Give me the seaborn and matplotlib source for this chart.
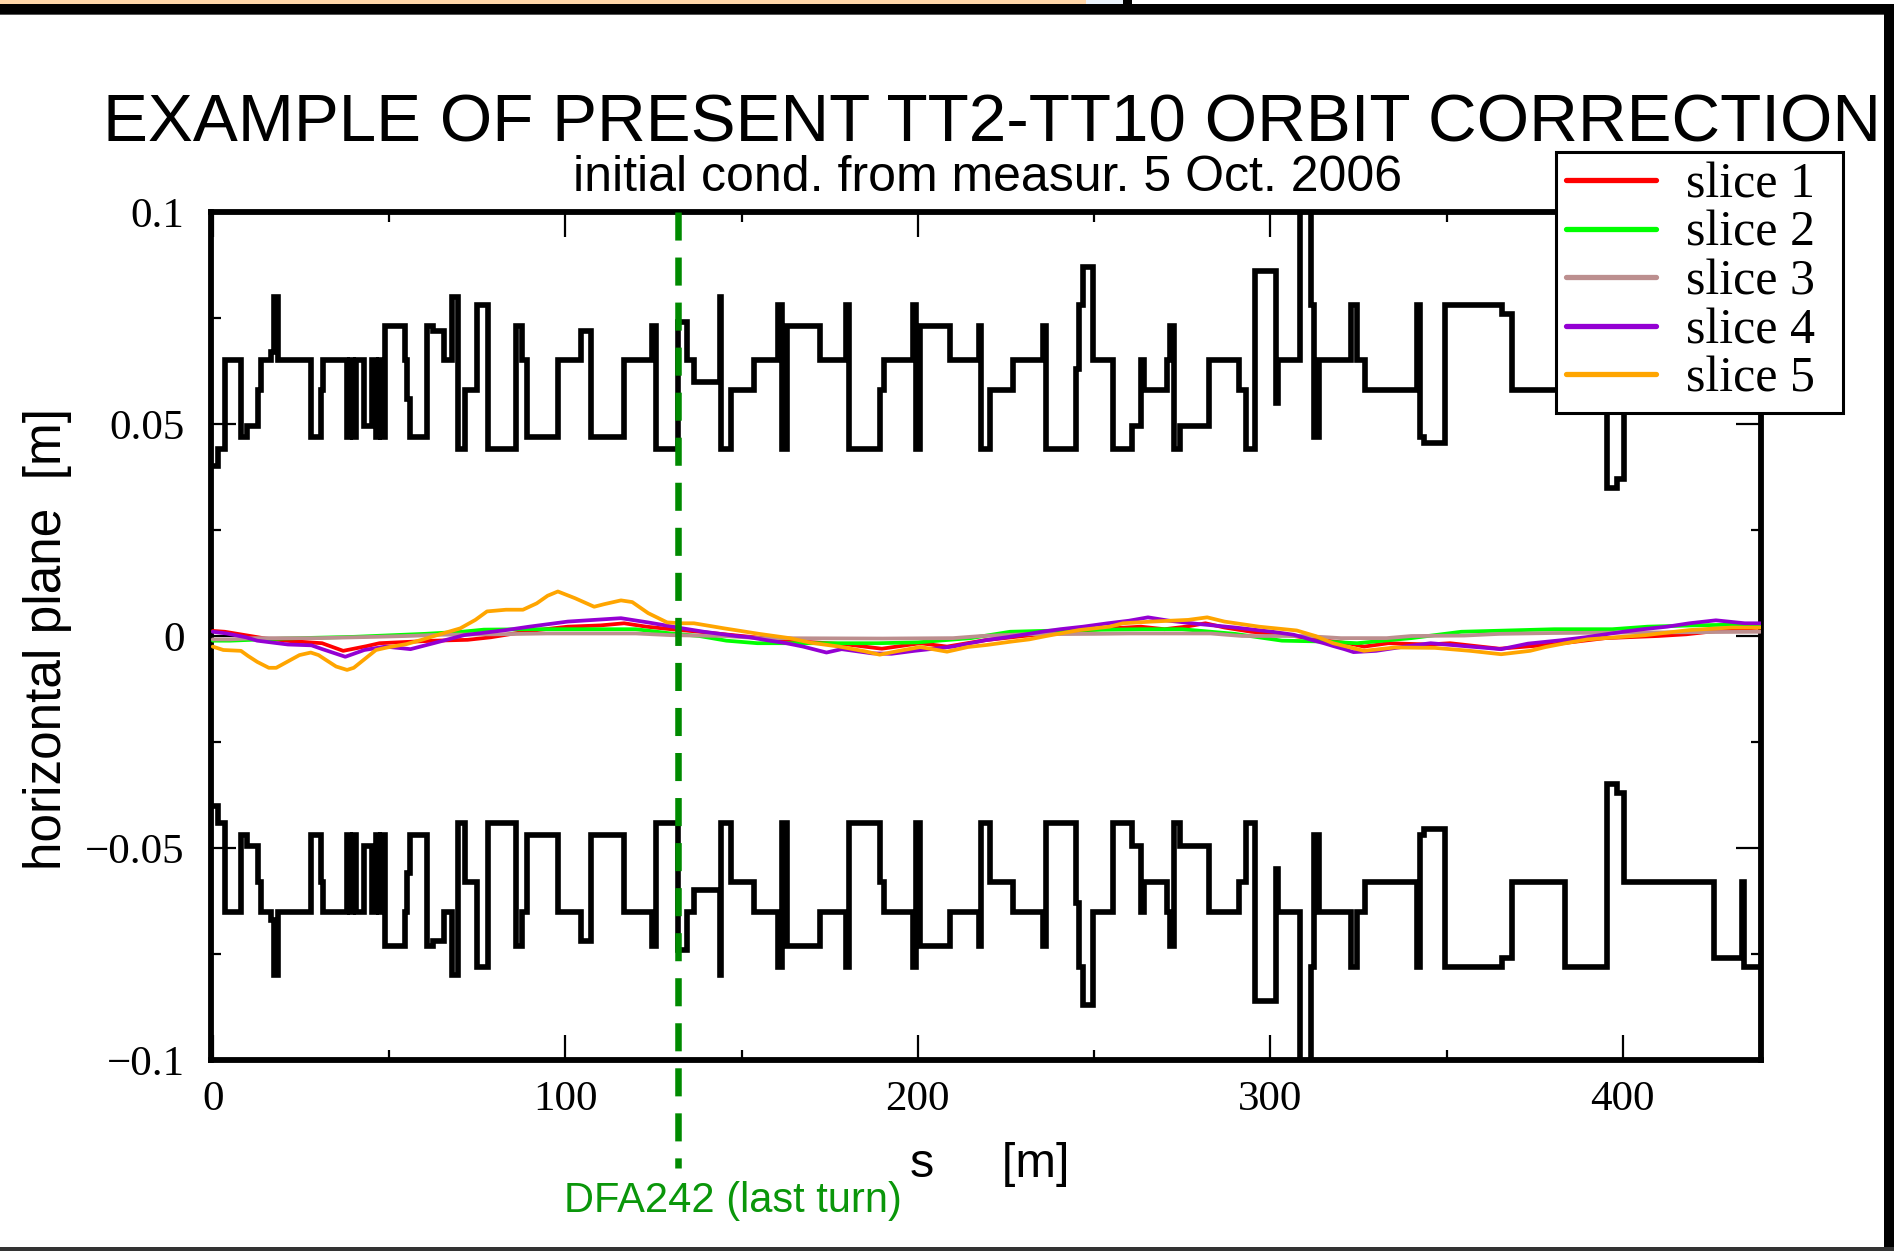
import numpy as np
import pandas as pd
import matplotlib
matplotlib.use("Agg")
import matplotlib.pyplot as plt
import seaborn as sns
from matplotlib.patches import Rectangle
from matplotlib.ticker import FixedLocator
from matplotlib.font_manager import FontProperties

# ---------------- data ----------------
# half aperture (step function, steps-post), upper = +, lower = -
ap_s = [0.0, 1.5, 3.4, 7.9, 9.6, 12.7, 13.6, 16.6, 17.4, 18.6,
        28.0, 30.6, 31.3, 38.2, 39.0, 39.8, 40.6, 42.9, 45.2, 46.2,
        47.2, 47.8, 48.8, 54.4, 55.0, 55.9, 60.9, 62.5, 65.6, 67.9,
        69.6, 71.6, 75.1, 78.0, 86.0, 87.7, 89.2, 97.9, 104.4, 107.2,
        116.6, 124.6, 125.6, 131.9, 134.4, 136.6, 143.9, 144.2, 146.9, 153.4,
        160.3, 161.5, 162.8, 172.4, 179.5, 180.6, 189.3, 190.3, 198.5, 199.5,
        200.6, 209.0, 217.5, 217.8, 220.4, 227.0, 235.4, 236.4, 244.9, 245.8,
        246.9, 249.6, 255.3, 260.8, 263.3, 264.2, 270.6, 271.6, 272.8, 274.3,
        282.7, 291.1, 293.1, 295.8, 301.5, 302.3, 308.3, 311.6, 312.3, 313.7,
        322.9, 324.6, 327.0, 341.5, 342.6, 343.6, 349.6, 365.8, 368.6, 383.7,
        395.5, 398.3, 400.3, 426.0, 433.8, 434.4, 440.0]
ap_half = [0.040, 0.044, 0.065, 0.047, 0.0495, 0.058, 0.065, 0.067, 0.080, 0.065,
           0.047, 0.058, 0.065, 0.047, 0.065, 0.047, 0.065, 0.0495, 0.065, 0.047,
           0.065, 0.047, 0.073, 0.065, 0.056, 0.047, 0.073, 0.072, 0.065, 0.080,
           0.044, 0.058, 0.078, 0.044, 0.073, 0.065, 0.047, 0.065, 0.072, 0.047,
           0.065, 0.073, 0.044, 0.074, 0.065, 0.060, 0.080, 0.044, 0.058, 0.065,
           0.078, 0.044, 0.073, 0.065, 0.078, 0.044, 0.058, 0.065, 0.078, 0.044,
           0.073, 0.065, 0.073, 0.044, 0.058, 0.065, 0.073, 0.044, 0.063, 0.078,
           0.087, 0.065, 0.044, 0.0495, 0.065, 0.058, 0.065, 0.073, 0.044, 0.0495,
           0.065, 0.058, 0.044, 0.086, 0.055, 0.065, 0.120, 0.078, 0.047, 0.065,
           0.078, 0.065, 0.058, 0.078, 0.047, 0.0455, 0.078, 0.076, 0.058, 0.078,
           0.035, 0.037, 0.058, 0.076, 0.058, 0.078, 0.078]

slice1_s = [0, 3.4, 8.5, 15, 22, 31, 37, 43.6, 47.3, 55, 63, 72.3, 78.9, 90, 100.7,
            110, 116.7, 123, 130, 138, 150, 165, 180, 189.8, 200.7, 208.3, 214, 219,
            230, 245, 255, 263.3, 270, 276, 281.6, 287, 294.6, 305, 315, 322, 326.6,
            333.5, 345, 351, 365, 380, 395, 410, 418, 430, 439]
slice1_x = [0.0012, 0.0010, 0.0003, -0.0006, -0.0012, -0.0017, -0.0035, -0.0024, -0.0017,
            -0.0014, -0.0011, -0.0009, -0.0003, 0.0012, 0.0022, 0.0025, 0.0030, 0.0022,
            0.0016, 0.0010, 0.0000, -0.0012, -0.0020, -0.0030, -0.0017, -0.0025, -0.0017,
            -0.0010, 0.0000, 0.0012, 0.0018, 0.0022, 0.0016, 0.0022, 0.0030, 0.0020,
            0.0010, 0.0002, -0.0010, -0.0017, -0.0025, -0.0017, -0.0020, -0.0017,
            -0.0030, -0.0020, -0.0005, 0.0000, 0.0004, 0.0015, 0.0020]

slice2_s = [0, 5, 20, 40, 60, 70.7, 76.9, 90, 105, 120, 130, 138, 145.7, 154.5, 173,
            188.7, 200, 215, 226.2, 245, 263.8, 275, 290, 303.3, 315, 324.6, 340, 354.2,
            380.6, 397, 407, 420, 439]
slice2_x = [-0.0011, -0.0011, -0.0006, -0.0002, 0.0005, 0.0010, 0.0015, 0.0016, 0.0016,
            0.0016, 0.0006, 0.0000, -0.0011, -0.0017, -0.0017, -0.0017, -0.0015, -0.0005,
            0.0010, 0.0014, 0.0016, 0.0016, 0.0005, -0.0011, -0.0013, -0.0017, -0.0005,
            0.0010, 0.0016, 0.0016, 0.0022, 0.0025, 0.0028]

slice3_s = [0, 5, 12, 30, 46, 55, 65, 80, 95, 120, 130, 145, 155, 190, 210, 218, 230,
            250, 260, 283, 292, 310, 320, 333, 340, 355, 365, 380, 400, 420, 439]
slice3_x = [-0.0008, -0.0008, -0.0005, -0.0005, -0.0002, 0.0000, 0.0003, 0.0004, 0.0006,
            0.0006, 0.0002, 0.0000, -0.0005, -0.0006, -0.0005, 0.0000, 0.0004, 0.0005,
            0.0006, 0.0006, 0.0000, 0.0000, -0.0005, -0.0005, 0.0000, 0.0001, 0.0005,
            0.0007, 0.0008, 0.0009, 0.0010]

slice4_s = [0, 3.9, 9.4, 12.6, 21.3, 28, 31.1, 37.6, 43, 49, 56.1, 63.1, 71.3, 83.2,
            89.8, 100.7, 115.8, 123.5, 133.3, 139.3, 148.4, 152.3, 157.2, 162.7, 167.5,
            174.1, 178.4, 187.1, 192.5, 199, 210, 219.2, 225.2, 230.6, 236, 240.4, 246.9,
            253.9, 259.9, 265.3, 271.3, 280, 290, 300.6, 306.6, 309.3, 312, 315.2, 318,
            321, 323.6, 330, 338, 345.5, 356.7, 365.5, 373.1, 382.5, 389.4, 395.1, 400.1,
            405.7, 412.6, 418.9, 426.4, 434.6, 439]
slice4_x = [0.0010, 0.0006, -0.0003, -0.0011, -0.0020, -0.0022, -0.0031, -0.0049, -0.0033,
            -0.0025, -0.0031, -0.0016, 0.0002, 0.0014, 0.0022, 0.0034, 0.0042, 0.0032,
            0.0018, 0.0010, 0.0000, -0.0003, -0.0010, -0.0017, -0.0025, -0.0039, -0.0031,
            -0.0041, -0.0042, -0.0035, -0.0025, -0.0010, -0.0003, 0.0004, 0.0011, 0.0016,
            0.0022, 0.0030, 0.0036, 0.0044, 0.0036, 0.0028, 0.0020, 0.0010, 0.0003,
            -0.0003, -0.0010, -0.0017, -0.0024, -0.0031, -0.0038, -0.0035, -0.0025,
            -0.0017, -0.0025, -0.0031, -0.0018, -0.0010, -0.0003, 0.0004, 0.0010, 0.0016,
            0.0022, 0.0030, 0.0037, 0.0030, 0.0030]

slice5_s = [0, 3, 8, 10, 12.6, 15.9, 18, 20.2, 24.6, 27.8, 30, 32.2, 35, 38.1, 40, 43,
            46.3, 49.5, 55, 59.3, 63.6, 70.2, 74.5, 77.8, 83.2, 88, 91.9, 95, 97.9, 102.8,
            108.2, 111, 115.8, 119, 123.5, 128.9, 133, 136.5, 145.1, 155, 163.6, 169.7,
            177.8, 184.9, 189.2, 194.7, 200.7, 208.3, 214.2, 219.7, 226.7, 231.6, 236.5,
            245.8, 254.4, 258.2, 266.4, 276.7, 282.1, 287, 296.8, 307.5, 312.8, 317.8,
            326.6, 335.4, 346.7, 356.7, 365.5, 373.7, 378.1, 384.4, 390, 398.2, 406.4,
            412.6, 418.9, 430.9, 439]
slice5_x = [-0.0025, -0.0033, -0.0035, -0.0047, -0.0061, -0.0075, -0.0075, -0.0065,
            -0.0045, -0.0039, -0.0045, -0.0057, -0.0072, -0.0080, -0.0075, -0.0055,
            -0.0033, -0.0027, -0.0019, -0.0009, 0.0002, 0.0018, 0.0038, 0.0058, 0.0062,
            0.0062, 0.0077, 0.0095, 0.0105, 0.0089, 0.0069, 0.0075, 0.0084, 0.0080,
            0.0054, 0.0032, 0.0030, 0.0030, 0.0018, 0.0005, -0.0005, -0.0016, -0.0025,
            -0.0036, -0.0044, -0.0035, -0.0026, -0.0037, -0.0026, -0.0021, -0.0013,
            -0.0008, 0.0000, 0.0014, 0.0022, 0.0030, 0.0034, 0.0038, 0.0044, 0.0034,
            0.0022, 0.0013, 0.0000, -0.0017, -0.0035, -0.0027, -0.0028, -0.0035,
            -0.0043, -0.0035, -0.0026, -0.0016, -0.0008, -0.0003, 0.0002, 0.0008,
            0.0014, 0.0020, 0.0020]

slice_labels = ["slice 1", "slice 2", "slice 3", "slice 4", "slice 5"]
slice_colors = ["#FF0000", "#00FF00", "#BC8F8F", "#9400D3", "#FFA500"]

x_major = [0, 100, 200, 300, 400]
x_minor = [50, 150, 250, 350]
y_major = [-0.1, -0.05, 0, 0.05, 0.1]
y_major_labels = ["\u22120.1", "\u22120.05", "0", "0.05", "0.1"]
y_minor = [-0.075, -0.025, 0.025, 0.075]

marker_s = 132.0

title = "EXAMPLE OF PRESENT TT2-TT10 ORBIT CORRECTION"
subtitle = "initial cond. from measur. 5 Oct. 2006"
xlabel = "s     [m]"
ylabel = "horizontal plane  [m]"
marker_label = "DFA242 (last turn)"

# ---------------- figure ----------------
W, H = 1894, 1251
def fx(px):
    return px / W
def fy(py):
    return 1 - py / H

sns.set_style("ticks")
plt.rcParams["font.family"] = ["Liberation Sans", "DejaVu Sans"]
plt.rcParams["axes.unicode_minus"] = True
for key in ["text.color", "xtick.color", "ytick.color", "axes.labelcolor", "axes.edgecolor"]:
    plt.rcParams[key] = "black"

fig = plt.figure(figsize=(W / 100, H / 100), dpi=100, facecolor="white")
ax = fig.add_axes([fx(211), fy(1060), fx(1761) - fx(211), fy(212) - fy(1060)])
ax.set_facecolor("white")

# aperture
ap_df = pd.DataFrame({"s": ap_s, "upper": ap_half, "lower": -np.array(ap_half)})
for col in ["upper", "lower"]:
    sns.lineplot(data=ap_df, x="s", y=col, ax=ax, color="black", linewidth=4.05,
                 drawstyle="steps-post", estimator=None, sort=False, legend=False,
                 solid_joinstyle="miter", solid_capstyle="butt", zorder=2)

# orbit slices
slices = [(slice1_s, slice1_x), (slice2_s, slice2_x), (slice3_s, slice3_x),
          (slice4_s, slice4_x), (slice5_s, slice5_x)]
handles = []
for (ss, xx), lab, col in zip(slices, slice_labels, slice_colors):
    sns.lineplot(x=ss, y=xx, ax=ax, color=col, linewidth=2.7, estimator=None,
                 sort=False, legend=False, zorder=3, label=lab)
    handles.append(ax.get_lines()[-1])

# marker line
ax.plot([marker_s, marker_s], [0.1, -0.1254], color="#008A00", linewidth=4.7,
        dashes=(4.3, 2.6), clip_on=False, zorder=6, dash_capstyle="butt")

ax.set_xlim(-0.5, 439.2)
ax.set_ylim(-0.1, 0.1)
ax.xaxis.set_major_locator(FixedLocator(x_major))
ax.xaxis.set_minor_locator(FixedLocator(x_minor))
ax.yaxis.set_major_locator(FixedLocator(y_major))
ax.yaxis.set_minor_locator(FixedLocator(y_minor))
ax.set_yticklabels(y_major_labels)
ax.set_xticklabels([str(v) for v in x_major])
ax.set_xlabel("")
ax.set_ylabel("")

ax.tick_params(which="both", direction="in", top=True, right=True, bottom=True,
               left=True, width=1.6, color="black", labelcolor="black")
ax.tick_params(which="major", length=18)
ax.tick_params(which="minor", length=7.5)
ax.tick_params(axis="y", which="major", pad=19, labelsize=31)
ax.tick_params(axis="x", which="major", pad=15, labelsize=31)
for lab in ax.get_xticklabels() + ax.get_yticklabels():
    lab.set_fontfamily("Liberation Serif")
for sp in ax.spines.values():
    sp.set_visible(True)
    sp.set_linewidth(4.2)
    sp.set_color("black")
ax.grid(False)

leg = ax.legend(handles, slice_labels, loc="upper left", mode="expand",
                bbox_to_anchor=(fx(1556), fy(399), fx(1843) - fx(1556), fy(152) - fy(399)),
                bbox_transform=fig.transFigure,
                borderaxespad=0, frameon=True, fancybox=False, framealpha=1,
                edgecolor="black", borderpad=0.2, handlelength=1.8,
                handletextpad=0.6, labelspacing=0.04,
                prop=FontProperties(family="Liberation Serif", size=36))
leg.get_frame().set_linewidth(2.2)
leg.set_zorder(7)
for h in leg.legend_handles:
    h.set_linewidth(3.8)
for t in leg.get_texts():
    t.set_color("black")

# texts
fig.text(fx(992), fy(142), title, ha="center", va="baseline", fontsize=48.5,
         family="Liberation Sans", color="black")
fig.text(fx(988), fy(191), subtitle, ha="center", va="baseline", fontsize=36,
         family="Liberation Sans", color="black")
fig.text(fx(990), fy(1177), xlabel, ha="center", va="baseline", fontsize=35,
         family="Liberation Sans", color="black")
fig.text(fx(47), fy(639), ylabel, ha="center", va="center", rotation=90,
         fontsize=37, family="Liberation Sans", color="black")
fig.text(fx(733), fy(1212), marker_label, ha="center", va="baseline", fontsize=30,
         color="#0A960A", family="Liberation Sans")

# screenshot frame decorations
def rect(x0, y0, x1, y1, color):
    fig.add_artist(Rectangle((fx(x0), fy(y1)), (x1 - x0) / W, (y1 - y0) / H,
                             transform=fig.transFigure, color=color, lw=0, zorder=10))

rect(0, 0, 1086, 4, "#FFD6A8")
rect(1086, 0, 1123, 4, "#EAF2FB")
rect(1123, 0, 1132, 4, "black")
rect(0, 4, W, 14, "black")
rect(0, 14, W, 15, "#555555")
rect(1884, 14, W, H, "black")
rect(0, 1247, W, H, "#333333")

fig.savefig("out.png", dpi=100, facecolor="white")
